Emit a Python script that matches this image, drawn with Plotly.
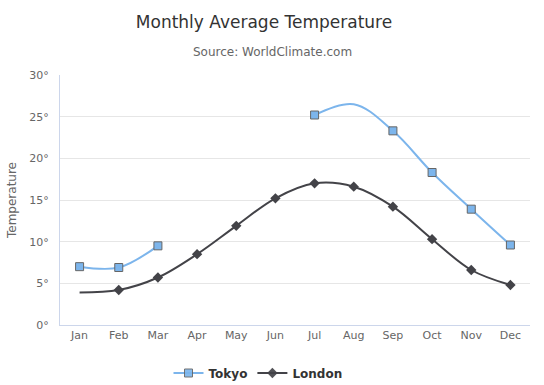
import plotly.graph_objects as go

months = ["Jan", "Feb", "Mar", "Apr", "May", "Jun", "Jul", "Aug", "Sep", "Oct", "Nov", "Dec"]
tokyo = [7.0, 6.9, 9.5, None, None, None, 25.2, 26.5, 23.3, 18.3, 13.9, 9.6]
tokyo_marker_visible = [1, 1, 1, 1, 1, 1, 1, 0, 1, 1, 1, 1]
london = [3.9, 4.2, 5.7, 8.5, 11.9, 15.2, 17.0, 16.6, 14.2, 10.3, 6.6, 4.8]
london_marker_visible = [0, 1, 1, 1, 1, 1, 1, 1, 1, 1, 1, 1]
y_ticks = [0, 5, 10, 15, 20, 25, 30]
y_ticktext = [f"{v}\u00b0" for v in y_ticks]

FONT = "DejaVu Sans"

fig = go.Figure()
fig.add_trace(go.Scatter(
    x=months, y=tokyo, name="Tokyo", mode="lines+markers",
    line=dict(color="#7cb5ec", width=2, shape="spline", smoothing=1.0),
    marker=dict(symbol="square", size=8, color="#7cb5ec",
                opacity=tokyo_marker_visible,
                line=dict(color="#666666", width=1)),
    connectgaps=False,
))
fig.add_trace(go.Scatter(
    x=months, y=london, name="London", mode="lines+markers",
    line=dict(color="#434348", width=2, shape="spline", smoothing=1.0),
    marker=dict(symbol="diamond", size=8, color="#434348",
                opacity=london_marker_visible,
                line=dict(width=0)),
))

fig.update_layout(
    width=544, height=385,
    paper_bgcolor="white", plot_bgcolor="white",
    margin=dict(l=60, r=14, t=75, b=60, autoexpand=False),
    font=dict(family=FONT, color="#666666", size=11),
    title=dict(text="Monthly Average Temperature", x=264 / 544, xanchor="center",
               xref="container", yref="container",
               y=1 - 22 / 385, yanchor="middle",
               font=dict(family=FONT, size=17, color="#333333")),
    annotations=[dict(text="Source: WorldClimate.com", xref="paper", yref="paper",
                      x=(272 - 60) / 470, y=1 + (75 - 52) / 250, xanchor="center", yanchor="middle",
                      showarrow=False, font=dict(family=FONT, size=12, color="#666666"))],
    xaxis=dict(type="category", range=[-0.5, 11.5], showgrid=False, automargin=False,
               showline=True, linecolor="#ccd6eb", linewidth=1,
               ticks="", tickfont=dict(size=11, color="#666666"), fixedrange=True),
    yaxis=dict(range=[0, 30], tickvals=y_ticks, ticktext=y_ticktext, automargin=False,
               showgrid=True, gridcolor="#e6e6e6", gridwidth=1,
               showline=True, linecolor="#ccd6eb", linewidth=1,
               zeroline=False, ticks="", ticklabelstandoff=8, fixedrange=True,
               tickfont=dict(size=11, color="#666666"),
               title=dict(text="Temperature", font=dict(size=12, color="#666666"), standoff=10)),
    legend=dict(orientation="h", x=258 / 544, xanchor="center", xref="container",
                yref="container", y=(385 - 373) / 385, yanchor="middle",
                font=dict(family=FONT, size=12, color="#333333", weight="bold"),
                itemwidth=30),
    showlegend=True,
)

fig.write_html("out.html", config={"displayModeBar": False},
               post_script="document.body.style.margin='0';")
